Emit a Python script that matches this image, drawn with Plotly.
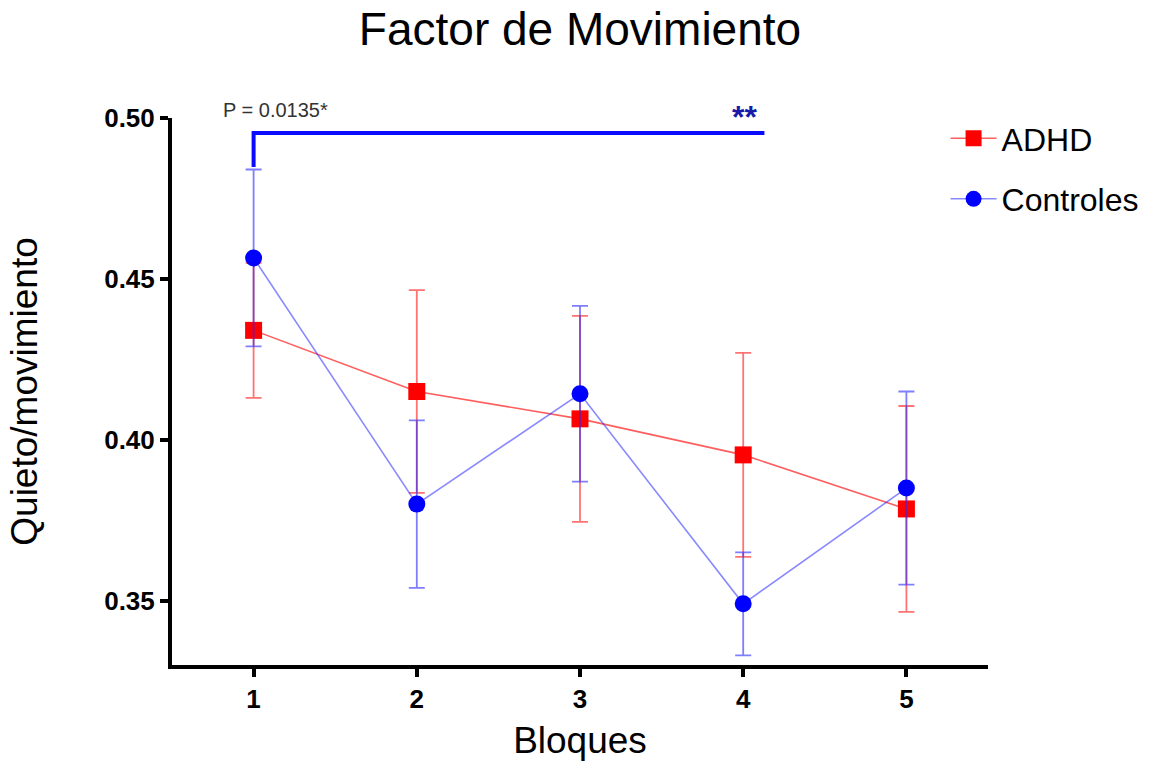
import plotly.graph_objects as go

bloques = [1, 2, 3, 4, 5]
adhd_mean = [0.434, 0.415, 0.4065, 0.3953, 0.3785]
adhd_err = [0.021, 0.0315, 0.032, 0.0317, 0.032]
ctrl_mean = [0.4565, 0.380, 0.4143, 0.3490, 0.3850]
ctrl_err = [0.0275, 0.026, 0.0273, 0.016, 0.030]

y_ticks = [0.35, 0.40, 0.45, 0.50]
x_ticks = [1, 2, 3, 4, 5]

# significance bracket (data coordinates)
bracket_x = [1, 1, 4.13]
bracket_y = [0.4848, 0.4953, 0.4953]
p_text = "P = 0.0135*"
stars_text = "**"

FONT = "Liberation Sans, Arial, sans-serif"

fig = go.Figure()

fig.add_trace(go.Scatter(
    x=bloques, y=adhd_mean, name="ADHD", mode="lines+markers",
    line=dict(color="rgba(255,40,40,0.75)", width=1.6),
    marker=dict(symbol="square", size=17, color="#ff0000"),
    error_y=dict(type="data", array=adhd_err, visible=True,
                 color="rgba(255,40,40,0.65)", thickness=1.8, width=8),
    legendgroup="a",
))
fig.add_trace(go.Scatter(
    x=bloques, y=ctrl_mean, name="Controles", mode="lines+markers",
    line=dict(color="rgba(40,40,255,0.55)", width=1.6),
    marker=dict(symbol="circle", size=17, color="#0000ff"),
    error_y=dict(type="data", array=ctrl_err, visible=True,
                 color="rgba(40,40,255,0.6)", thickness=1.8, width=8),
    legendgroup="b",
))

fig.add_shape(type="path",
              path=f"M {bracket_x[0]},{bracket_y[0]} L {bracket_x[1]},{bracket_y[1]} L {bracket_x[2]},{bracket_y[2]}",
              xref="x", yref="y", line=dict(color="#0a0aff", width=4))

fig.add_annotation(x=bracket_x[0], y=bracket_y[1], xref="x", yref="y",
                   text=p_text, showarrow=False, xanchor="center", yanchor="bottom",
                   xshift=22, yshift=10,
                   font=dict(family=FONT, size=20, color="#333333"))
fig.add_annotation(x=bracket_x[2], y=bracket_y[2], xref="x", yref="y",
                   text=stars_text, showarrow=False, xanchor="center", yanchor="bottom",
                   xshift=-20, yshift=-4,
                   font=dict(family=FONT, size=32, color="#1a1aa8", weight="bold"))

fig.update_layout(
    width=1156, height=761,
    margin=dict(l=172, r=166, t=118, b=96),
    paper_bgcolor="white", plot_bgcolor="white",
    title=dict(text="Factor de Movimiento", x=0.5, xref="paper", xanchor="center",
               y=0.962, yref="container", yanchor="middle",
               font=dict(family=FONT, size=46, color="black")),
    showlegend=True,
    legend=dict(x=0.948, y=1.013, xanchor="left", yanchor="top",
                font=dict(family=FONT, size=32, color="black"),
                tracegroupgap=16, traceorder="grouped", itemwidth=46,
                bgcolor="rgba(0,0,0,0)"),
    xaxis=dict(range=[0.5, 5.5], tickvals=x_ticks, ticktext=[str(v) for v in x_ticks],
               automargin=False,
               showgrid=False, zeroline=False, showline=True, linecolor="black", linewidth=4,
               ticks="outside", ticklen=8, tickwidth=4, tickcolor="black",
               tickfont=dict(family=FONT, size=26, color="black", weight="bold"),
               title=dict(text="Bloques", standoff=22, font=dict(family=FONT, size=37, color="black"))),
    yaxis=dict(range=[0.33, 0.50], tickvals=y_ticks, tickformat=".2f",
               automargin=False,
               showgrid=False, zeroline=False, showline=True, linecolor="black", linewidth=4,
               ticks="outside", ticklen=8, tickwidth=4, tickcolor="black",
               tickfont=dict(family=FONT, size=26, color="black", weight="bold"),
               title=dict(text="Quieto/movimiento", standoff=56, font=dict(family=FONT, size=37, color="black"))),
)

fig.write_html("out.html")
